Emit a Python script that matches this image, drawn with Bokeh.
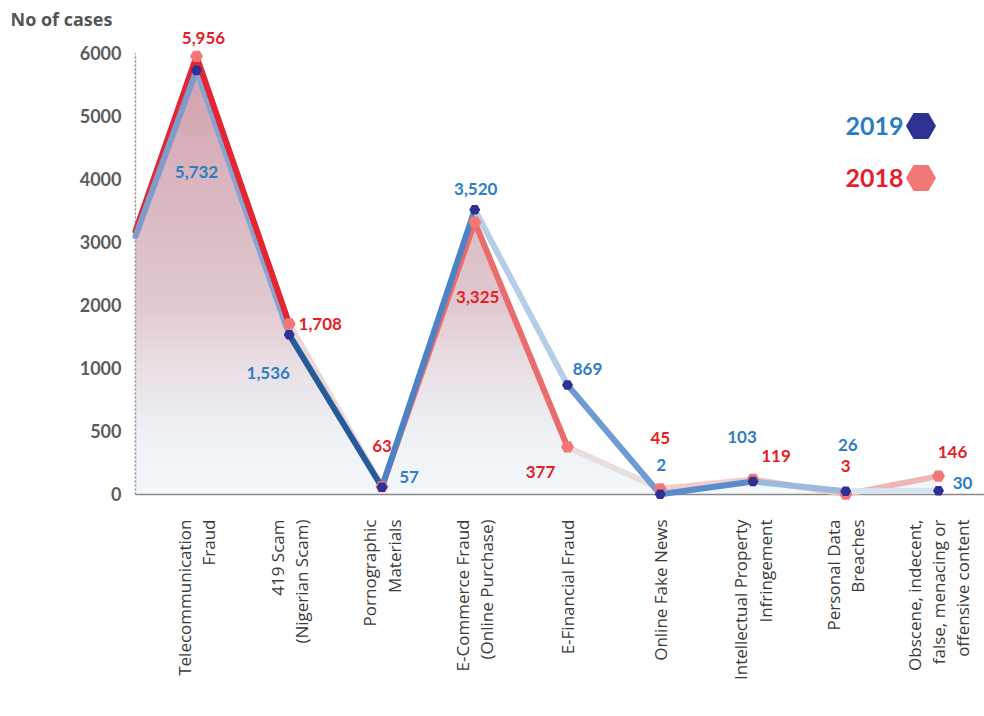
import math
import numpy as np
from bokeh.plotting import figure
from bokeh.models import ColumnDataSource, Label, LabelSet, Legend, LegendItem, Range1d
from bokeh.core.properties import value
from bokeh.embed import file_html
from bokeh.resources import INLINE

# ---------------- data ----------------
categories = [
    "Telecommunication\nFraud",
    "419 Scam\n(Nigerian Scam)",
    "Pornographic\nMaterials",
    "E-Commerce Fraud\n(Online Purchase)",
    "E-Financial Fraud",
    "Online Fake News",
    "Intellectual Property\nInfringement",
    "Personal Data\nBreaches",
    "Obscene, indecent,\nfalse, menacing or\noffensive content",
]
cases_2019 = [5732, 1536, 57, 3520, 869, 2, 103, 26, 30]
cases_2018 = [5956, 1708, 63, 3325, 377, 45, 119, 3, 146]
labels_2019 = ["5,732", "1,536", "57", "3,520", "869", "2", "103", "26", "30"]
labels_2018 = ["5,956", "1,708", "63", "3,325", "377", "45", "119", "3", "146"]
y_tick_values = [0, 500, 1000, 2000, 3000, 4000, 5000, 6000]
y_tick_labels = ["0", "500", "1000", "2000", "3000", "4000", "5000", "6000"]
# value at which each line meets the left (dashed) axis
axis_start_2019 = 3100
axis_start_2018 = 3180

# ---------------- scale (piecewise axis: equal spacing per tick) ----------------
tick_pos = list(range(len(y_tick_values)))


def to_pos(v):
    return np.interp(v, y_tick_values, tick_pos)


n = len(categories)
xs = np.arange(n)
AX = -0.658                      # position of the left (dashed) axis
X0, X1 = -2.113, 8.496
Y0, Y1 = -3.524, 7.841

p = figure(width=984, height=716, x_range=Range1d(X0, X1), y_range=Range1d(Y0, Y1),
           output_backend="svg", toolbar_location=None,
           x_axis_type=None, y_axis_type=None,
           min_border_left=0, min_border_right=0, min_border_top=0, min_border_bottom=0)
p.outline_line_color = None
p.grid.visible = False
p.background_fill_color = "white"
p.border_fill_color = "white"

y19 = to_pos(cases_2019)
y18 = to_pos(cases_2018)
xf = np.r_[AX, xs]
yf19 = np.r_[to_pos(axis_start_2019), y19]
yf18 = np.r_[to_pos(axis_start_2018), y18]

# ---------------- gradient area under the 2018 line ----------------
grad_pos = [0.0, 1.0, 2.0, 3.0, 4.5, 6.5, 7.2]
grad_col = ["#f3f8fc", "#eef0f5", "#e9e0e6", "#e0c9cf", "#dbbac3", "#d4a4b1", "#d09cab"]
rgb = np.array([[int(c[i:i + 2], 16) for i in (1, 3, 5)] for c in grad_col], dtype=float)
edges = np.linspace(0, float(yf18.max()) + 0.05, 90)
mids = (edges[:-1] + edges[1:]) / 2
band_cols = ["#%02x%02x%02x" % tuple(int(round(np.interp(m, grad_pos, rgb[:, k]))) for k in range(3))
             for m in mids]
p.quad(left=AX, right=float(xs[-1]) - 0.03, bottom=edges[:-1], top=edges[1:] + 0.02,
       fill_color=band_cols, line_color=None)
p.varea(x=xf, y1=yf18, y2=Y1, fill_color="white")

# ---------------- axes lines ----------------
p.segment(x0=[AX], y0=[tick_pos[0]], x1=[AX], y1=[tick_pos[-1]],
          line_color="#8f8f8f", line_width=1.6, line_dash="2 2")
p.segment(x0=[AX], y0=[tick_pos[0]], x1=[X1], y1=[tick_pos[0]],
          line_color="#8a8a8a", line_width=1.3)

# ---------------- lines (segment colours mimic the gradients) ----------------
col19 = ["#7f9bc9", "#86a5d2", "#245b98", "#4a84c5", "#b5cde9", "#6e9bd3", "#5a8ccc", "#9cb9dc", "#d6e4f2"]
col18 = ["#e32636", "#e52530", "#ead6d6", "#ec6a6a", "#ea6d6d", "#e9dede", "#f2cccc", "#eec4c4", "#eeb6b6"]
front18 = [1, 4]


def seg_source(xv, yv, cols, idx):
    return ColumnDataSource(dict(x0=[xv[i] for i in idx], y0=[yv[i] for i in idx],
                                 x1=[xv[i + 1] for i in idx], y1=[yv[i + 1] for i in idx],
                                 c=[cols[i] for i in idx]))


back18 = [i for i in range(n) if i not in front18]
p.segment("x0", "y0", "x1", "y1", source=seg_source(xf, yf18, col18, back18),
          line_color="c", line_width=6, line_cap="round")
p.segment("x0", "y0", "x1", "y1", source=seg_source(xf, yf19, col19, list(range(n))),
          line_color="c", line_width=6, line_cap="round")
p.segment("x0", "y0", "x1", "y1", source=seg_source(xf, yf18, col18, front18),
          line_color="c", line_width=6, line_cap="round")

r18 = p.scatter(xs, y18, marker="hex", size=13, fill_color="#f27878", line_color=None)
r19 = p.scatter(xs, y19, marker="hex", size=11, fill_color="#2e3192", line_color=None)

# ---------------- value labels ----------------
off19_x = [0, -21, 27, 1, 20, 1, -11, 2, 24]
off19_y = [-102, -38, 10, 21, 16, 29, 45, 46, 8]
off18_x = [7, 31, 0, 3, -27, 0, 23, 0, 14]
off18_y = [18, 0, 41, -75, -25, 51, 23, 28, 24]
src19 = ColumnDataSource(dict(x=xs, y=y19, t=labels_2019, dx=off19_x, dy=off19_y))
src18 = ColumnDataSource(dict(x=xs, y=y18, t=labels_2018, dx=off18_x, dy=off18_y))
for src, colr in ((src19, "#2f7ec3"), (src18, "#e61e2a")):
    p.add_layout(LabelSet(x="x", y="y", text="t", x_offset="dx", y_offset="dy", source=src,
                          text_align="center", text_baseline="middle", text_font=value("Lato"),
                          text_font_style="bold", text_font_size="17px", text_color=colr))

# ---------------- tick labels ----------------
p.text(x=[AX] * len(tick_pos), y=tick_pos, text=y_tick_labels, x_offset=-14,
       text_align="right", text_baseline="middle", text_font=value("Lato"),
       text_font_style="bold", text_font_size="18px", text_color="#5c5c5c")
p.text(x=xs, y=[tick_pos[0]] * n, text=categories, angle=math.pi / 2, y_offset=25,
       text_align="right", text_baseline="middle", text_font=value("Open Sans"),
       text_font_size="17px", text_color="#3a3a3a", text_line_height=1.05)

# ---------------- titles / legend ----------------
p.add_layout(Label(x=10, y=698, x_units="screen", y_units="screen", text="No of cases",
                   text_align="left", text_baseline="middle", text_font="Open Sans",
                   text_font_style="bold", text_font_size="18px", text_color="#555555"))
p.add_layout(Label(x=903, y=591, x_units="screen", y_units="screen", text="2019",
                   text_align="right", text_baseline="middle", text_font="Lato",
                   text_font_style="bold", text_font_size="25px", text_color="#2a7dc1"))
p.add_layout(Label(x=903, y=539, x_units="screen", y_units="screen", text="2018",
                   text_align="right", text_baseline="middle", text_font="Lato",
                   text_font_style="bold", text_font_size="25px", text_color="#e61e2a"))

for r, lab, loc in ((r19, "2019", (883, 553)), (r18, "2018", (883, 501))):
    p.add_layout(Legend(items=[LegendItem(label=lab, renderers=[r])],
                        location=loc, glyph_width=75, glyph_height=75,
                        padding=0, margin=0, label_standoff=0, label_width=0,
                        label_text_alpha=0, label_text_font_size="1px",
                        border_line_color=None, background_fill_alpha=0), "center")

open("out.html", "w").write(file_html(p, INLINE))
